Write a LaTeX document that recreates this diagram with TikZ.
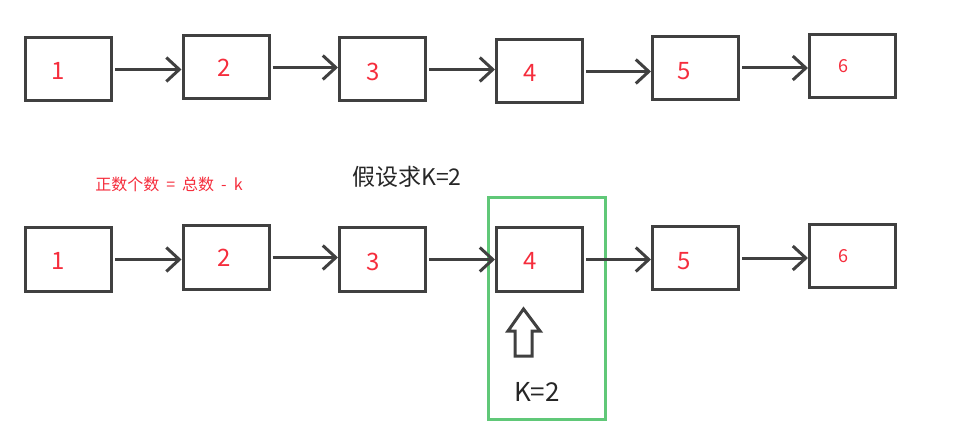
\documentclass[tikz,border=0pt]{standalone}
\usepackage{fontspec}
\setmainfont{Noto Sans CJK SC}
\usetikzlibrary{arrows.meta}
\definecolor{boxgray}{RGB}{64,64,64}
\definecolor{numred}{RGB}{245,45,60}
\definecolor{markgreen}{RGB}{96,200,120}
\tikzset{
  listbox/.style={draw=boxgray, line width=3pt, minimum width=86pt, minimum height=63pt, inner sep=0pt},
  nextarrow/.style={draw=boxgray, line width=3pt, shorten <=2pt, -{Straight Barb[length=13pt,width=24pt]}},
  num/.style={text=numred, font=\fontsize{24}{28}\selectfont},
  small num/.style={text=numred, font=\fontsize{18}{22}\selectfont},
}
\begin{document}
\begin{tikzpicture}[x=1pt,y=-1pt]
\useasboundingbox (0,0) rectangle (968,430);
% upper list
\node[listbox, label={[num, xshift=-10pt, yshift=-1.5pt]center:1}] (a1) at (68.5,69.5) {};
\node[listbox, label={[num, xshift=-2pt]center:2}] (a2) at (226,67.5) {};
\node[listbox, label={[num, xshift=-9pt, yshift=-2.5pt]center:3}] (a3) at (382.5,69.5) {};
\node[listbox, label={[num, xshift=-9.5pt, yshift=-1.5pt]center:4}] (a4) at (539.5,71.5) {};
\node[listbox, label={[num, xshift=-11pt, yshift=-3pt]center:5}] (a5) at (695.5,68) {};
\node[listbox, label={[small num, xshift=-9.5pt]center:6}] (a6) at (852.5,66) {};
\draw[nextarrow] (a1.east) -- (a1.east -| a2.west);
\draw[nextarrow] (a2.east) -- (a2.east -| a3.west);
\draw[nextarrow] (a3.east) -- (a3.east -| a4.west);
\draw[nextarrow] (a4.east) -- (a4.east -| a5.west);
\draw[nextarrow] (a5.east) -- (a5.east -| a6.west);
% texts between the lists
\node[text=numred, font=\fontsize{16}{18}\selectfont] (rule) at (169,184) {正数个数\hspace{7pt}=\hspace{7pt}总数\hspace{7pt}-\hspace{7pt}k};
\node[text=black!85, font=\fontsize{23}{26}\selectfont] (assume) at (407,177) {假设求K=2};
% mark around the answer
\node[draw=markgreen, line width=3pt, minimum width=117pt, minimum height=222pt] (mark) at (547,308.5) {};
% lower list
\node[listbox, label={[num, xshift=-10pt, yshift=-1.5pt]center:1}] (b1) at (68.5,259.5) {};
\node[listbox, label={[num, xshift=-2pt]center:2}] (b2) at (226,257.5) {};
\node[listbox, label={[num, xshift=-9pt, yshift=-2.5pt]center:3}] (b3) at (382.5,259.5) {};
\node[listbox, label={[num, xshift=-9.5pt, yshift=-1.5pt]center:4}] (b4) at (539.5,259.5) {};
\node[listbox, label={[num, xshift=-11pt, yshift=-3pt]center:5}] (b5) at (695.5,258) {};
\node[listbox, label={[small num, xshift=-9.5pt]center:6}] (b6) at (852.5,256) {};
\draw[nextarrow] (b1.east) -- (b1.east -| b2.west);
\draw[nextarrow] (b2.east) -- (b2.east -| b3.west);
\draw[nextarrow] (b3.east) -- (b3.east -| b4.west);
\draw[nextarrow] (b4.east) -- (b4.east -| b5.west);
\draw[nextarrow] (b5.east) -- (b5.east -| b6.west);
% hollow arrow under node 4
\draw[boxgray, line width=3pt, line join=miter] (515,356) -- (515,331) -- (508,331) -- (523.5,309) -- (540,331) -- (532,331) -- (532,356) -- cycle;
\node[text=black!85, font=\fontsize{26}{30}\selectfont] (kval) at (537,392) {K=2};
\end{tikzpicture}
\end{document}
